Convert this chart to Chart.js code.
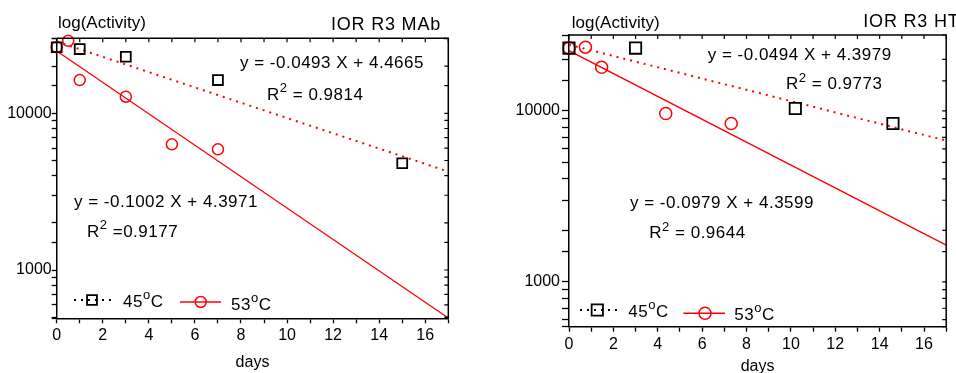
<!DOCTYPE html>
<html>
<head>
<meta charset="utf-8">
<script src="https://cdn.jsdelivr.net/npm/chart.js@4"></script>
<style>
  body { margin: 0; background: #fff; width: 956px; height: 373px; overflow: hidden; position: relative; }
  canvas { position: absolute; top: 0; }
  #mab { left: 0; }
  #ht { left: 480px; }
</style>
</head>
<body>
<canvas id="mab" width="480" height="373"></canvas>
<canvas id="ht" width="476" height="373"></canvas>
<script>
// IOR R3 MAb
const mabDays45 = [0, 1, 3, 7, 15];
const mabAct45 = [26400, 25700, 22950, 16300, 4800];
const mabDays53 = [0, 0.5, 1, 3, 5, 7];
const mabAct53 = [26400, 29000, 16300, 12760, 6340, 5890];
const mabFitDays = [0, 17];
const mabFit45 = [28700, 4250];
const mabFit53 = [25000, 494];

// IOR R3 HT
const htDays45 = [0, 3, 10.2, 14.6];
const htAct45 = [23300, 23300, 10330, 8430];
const htDays53 = [0, 0.74, 1.47, 4.36, 7.31];
const htAct53 = [23300, 23600, 18000, 9660, 8430];
const htFitDays = [0, 17];
const htFit45 = [24400, 6700];
const htFit53 = [22500, 1640];

const yLabels = [1000, 10000];
const FONT = '"Liberation Sans", Arial, sans-serif';
const RED = '#ff0000';

const pts = (xs, ys) => xs.map((x, i) => ({ x: x, y: ys[i] }));

// text with ^sup^ parts
function rich(ctx, text, x, y, size, spacing) {
  text.split('^').forEach((t, i) => {
    const sup = i % 2 === 1;
    ctx.font = (sup ? Math.round(size * 0.75) : size) + 'px ' + FONT;
    ctx.letterSpacing = spacing + 'px';
    ctx.fillText(t, x, sup ? y - size * 0.45 : y);
    x += ctx.measureText(t).width;
  });
}

function mark(ctx, kind, x, y, r, color) {
  ctx.strokeStyle = color;
  ctx.beginPath();
  if (kind === 'rect') {
    const s = r * Math.SQRT1_2;
    ctx.lineWidth = 1.8;
    ctx.rect(x - s, y - s, 2 * s, 2 * s);
  } else {
    ctx.lineWidth = 1.5;
    ctx.arc(x, y, r, 0, Math.PI * 2);
  }
  ctx.stroke();
}

const frame = {
  id: 'frame',
  afterDraw(chart, args, o) {
    const { ctx, chartArea: a } = chart;
    const x = chart.scales.x, y = chart.scales.y;
    ctx.save();
    // top and right border with inner ticks
    ctx.strokeStyle = '#000';
    ctx.lineWidth = 1.5;
    ctx.beginPath();
    ctx.moveTo(a.left, a.top);
    ctx.lineTo(a.right, a.top);
    ctx.lineTo(a.right, a.bottom);
    ctx.stroke();
    ctx.lineWidth = 1.2;
    ctx.beginPath();
    x.ticks.forEach(t => {
      const px = x.getPixelForValue(t.value);
      ctx.moveTo(px, a.top);
      ctx.lineTo(px, a.top + 4);
    });
    y.ticks.forEach(t => {
      const py = y.getPixelForValue(t.value);
      ctx.moveTo(a.right, py);
      ctx.lineTo(a.right - 4, py);
    });
    ctx.stroke();

    ctx.fillStyle = '#000';
    ctx.textBaseline = 'alphabetic';
    // titles
    ctx.textAlign = 'left';
    rich(ctx, 'log(Activity)', o.axisTitle.x, o.axisTitle.y, 17, 0);
    ctx.textAlign = o.name.align;
    rich(ctx, o.name.text, o.name.x, o.name.y, 18, 0.8);
    ctx.textAlign = 'left';
    // equations
    o.notes.forEach(n => rich(ctx, n.text, n.x, n.y, 17, 0.5));
    // legend
    o.legend.forEach(l => {
      ctx.strokeStyle = l.color;
      ctx.lineWidth = l.dash ? 2 : 1.5;
      ctx.setLineDash(l.dash ? [2, 5] : []);
      ctx.beginPath();
      ctx.moveTo(l.x0, l.my);
      ctx.lineTo(l.x1, l.my);
      ctx.stroke();
      ctx.setLineDash([]);
      mark(ctx, l.kind, l.mx, l.my, l.r, l.mark);
      ctx.fillStyle = '#000';
      rich(ctx, l.text, l.tx, l.ty, 17, 0.5);
    });
    ctx.restore();
  }
};

function makeChart(id, s) {
  return new Chart(document.getElementById(id), {
    type: 'scatter',
    data: {
      datasets: [
        {
          label: '45°C',
          data: pts(s.days45, s.act45),
          pointStyle: 'rect',
          pointRadius: s.rectR,
          borderColor: '#000',
          backgroundColor: 'rgba(0,0,0,0)',
          borderWidth: 1.8,
          clip: false
        },
        {
          label: '53°C',
          data: pts(s.days53, s.act53),
          pointStyle: 'circle',
          pointRadius: s.circR,
          borderColor: RED,
          backgroundColor: 'rgba(0,0,0,0)',
          borderWidth: 1.5,
          clip: false
        },
        {
          label: 'fit 45',
          data: pts(s.fitDays, s.fit45),
          showLine: true,
          pointRadius: 0,
          borderColor: RED,
          borderWidth: 2,
          borderDash: [2, 5]
        },
        {
          label: 'fit 53',
          data: pts(s.fitDays, s.fit53),
          showLine: true,
          pointRadius: 0,
          borderColor: RED,
          borderWidth: 1.3
        }
      ]
    },
    options: {
      responsive: false,
      animation: false,
      layout: { padding: s.pad },
      plugins: {
        legend: { display: false },
        tooltip: { enabled: false },
        frame: s.deco
      },
      scales: {
        x: {
          type: 'linear',
          min: 0,
          max: 17,
          afterFit: sc => { sc.height = s.xH; },
          ticks: {
            stepSize: 1,
            autoSkip: false,
            maxRotation: 0,
            color: '#000',
            padding: 3,
            font: { family: FONT, size: 16 },
            callback: v => (v % 2 === 0 ? v : '')
          },
          grid: { drawOnChartArea: false, color: '#000', tickLength: 5, tickWidth: 1.3 },
          border: { color: '#000', width: 1.5 },
          title: {
            display: true,
            text: 'days',
            color: '#000',
            font: { family: FONT, size: 16 },
            padding: { top: 0, bottom: s.titlePad }
          }
        },
        y: {
          type: 'logarithmic',
          min: s.yMin,
          max: s.yMax,
          afterFit: sc => { sc.width = s.yW; },
          ticks: {
            autoSkip: false,
            color: '#000',
            padding: s.yPad,
            font: { family: FONT, size: 16 },
            callback: v => (yLabels.includes(v) ? String(v) : '')
          },
          grid: { drawOnChartArea: false, color: '#000', tickLength: s.yTick, tickWidth: 1.3 },
          border: { color: '#000', width: 1.5 }
        }
      }
    },
    plugins: [frame]
  });
}

makeChart('mab', {
  days45: mabDays45, act45: mabAct45,
  days53: mabDays53, act53: mabAct53,
  fitDays: mabFitDays, fit45: mabFit45, fit53: mabFit53,
  rectR: 7, circR: 5.5,
  yMin: 492, yMax: 30100,
  pad: { top: 38.3, right: 31.7, left: 0, bottom: 0 },
  xH: 54.7, yW: 56.7, yPad: 0, yTick: 5, titlePad: 0.4,
  deco: {
    axisTitle: { x: 58, y: 28 },
    name: { text: 'IOR R3 MAb', x: 441, y: 30, align: 'right' },
    notes: [
      { text: 'y = -0.0493 X + 4.4665', x: 240, y: 68 },
      { text: 'R^2^ = 0.9814', x: 267, y: 100 },
      { text: 'y = -0.1002 X + 4.3971', x: 74, y: 206.5 },
      { text: 'R^2^ =0.9177', x: 87, y: 236.5 }
    ],
    legend: [
      { x0: 74, x1: 116, my: 300, mx: 92, kind: 'rect', r: 7, color: '#000', mark: '#000', dash: true, tx: 123, ty: 306.5, text: '45^o^C' },
      { x0: 180, x1: 221, my: 302, mx: 200.7, kind: 'circle', r: 5.5, color: RED, mark: RED, dash: false, tx: 231, ty: 310, text: '53^o^C' }
    ]
  }
});

makeChart('ht', {
  days45: htDays45, act45: htAct45,
  days53: htDays53, act53: htAct53,
  fitDays: htFitDays, fit45: htFit45, fit53: htFit53,
  rectR: 8, circR: 6,
  yMin: 546, yMax: 27800,
  pad: { top: 35, right: 2.5, left: 0, bottom: 0 },
  xH: 46.3, yW: 89, yPad: 2, yTick: 7, titlePad: -3.6,
  deco: {
    axisTitle: { x: 91.7, y: 28.3 },
    name: { text: 'IOR R3 HT', x: 383.3, y: 26.7, align: 'left' },
    notes: [
      { text: 'y = -0.0494 X + 4.3979', x: 227.7, y: 60 },
      { text: 'R^2^ = 0.9773', x: 306, y: 89.3 },
      { text: 'y = -0.0979 X + 4.3599', x: 150, y: 208.3 },
      { text: 'R^2^ = 0.9644', x: 169.3, y: 238.3 }
    ],
    legend: [
      { x0: 100, x1: 141.7, my: 310, mx: 117.3, kind: 'rect', r: 8, color: '#000', mark: '#000', dash: true, tx: 148.3, ty: 316.7, text: '45^o^C' },
      { x0: 203.3, x1: 245, my: 313.3, mx: 225, kind: 'circle', r: 6, color: RED, mark: RED, dash: false, tx: 254.3, ty: 320, text: '53^o^C' }
    ]
  }
});
</script>
</body>
</html>
